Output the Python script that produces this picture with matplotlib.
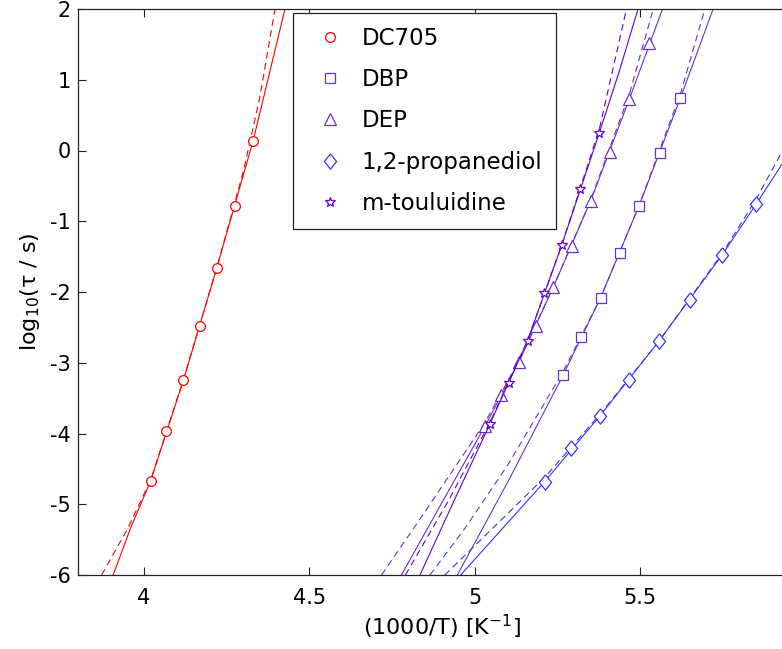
import matplotlib
matplotlib.use('Agg')
import matplotlib.pyplot as plt
import numpy as np

plt.rcParams['font.family'] = ['DejaVu Sans']
plt.rcParams['axes.unicode_minus'] = False

# measured points  (1000/T, log10 tau)
dc705_x = [4.020, 4.067, 4.119, 4.169, 4.220, 4.275, 4.330]
dc705_y = [-4.67, -3.97, -3.25, -2.48, -1.66, -0.78, 0.14]
dbp_x = [5.266, 5.320, 5.380, 5.438, 5.496, 5.559, 5.621]
dbp_y = [-3.18, -2.64, -2.08, -1.45, -0.78, -0.04, 0.74]
dep_x = [5.030, 5.079, 5.133, 5.184, 5.237, 5.293, 5.350, 5.409, 5.467, 5.527]
dep_y = [-3.90, -3.46, -2.99, -2.48, -1.93, -1.35, -0.71, -0.02, 0.73, 1.52]
prop_x = [5.211, 5.291, 5.378, 5.466, 5.557, 5.650, 5.748, 5.851]
prop_y = [-4.68, -4.21, -3.75, -3.24, -2.69, -2.12, -1.47, -0.75]
mtol_x = [5.045, 5.104, 5.159, 5.210, 5.263, 5.319, 5.376]
mtol_y = [-3.87, -3.29, -2.69, -2.01, -1.33, -0.55, 0.25]

# fit curves (solid and dashed)
dc705_fit1_x = [3.907, 3.96, 4.020, 4.119, 4.220, 4.330, 4.426]
dc705_fit1_y = [-6.0, -5.33, -4.67, -3.25, -1.66, 0.14, 2.0]
dc705_fit2_x = [3.872, 3.95, 4.020, 4.119, 4.220, 4.300, 4.350, 4.396]
dc705_fit2_y = [-6.0, -5.35, -4.66, -3.24, -1.66, -0.30, 0.75, 2.0]

dbp_fit1_x = [4.947, 5.10, 5.266, 5.380, 5.496, 5.621, 5.720]
dbp_fit1_y = [-6.0, -4.68, -3.18, -2.08, -0.78, 0.74, 2.0]
dbp_fit2_x = [4.864, 4.97, 5.10, 5.266, 5.380, 5.496, 5.621, 5.695]
dbp_fit2_y = [-6.0, -5.34, -4.44, -3.13, -2.08, -0.78, 0.80, 2.0]

dep_fit1_x = [4.778, 4.90, 5.030, 5.133, 5.237, 5.350, 5.467, 5.567]
dep_fit1_y = [-6.0, -4.98, -3.90, -2.99, -1.93, -0.71, 0.73, 2.0]
dep_fit2_x = [4.718, 4.85, 5.030, 5.133, 5.237, 5.350, 5.467, 5.539]
dep_fit2_y = [-6.0, -5.10, -3.85, -2.97, -1.93, -0.70, 0.80, 2.0]

prop_fit1_x = [4.957, 5.211, 5.378, 5.557, 5.748, 5.851, 5.930]
prop_fit1_y = [-6.0, -4.68, -3.75, -2.69, -1.47, -0.75, -0.18]
prop_fit2_x = [4.909, 5.211, 5.378, 5.557, 5.748, 5.851, 5.930]
prop_fit2_y = [-6.0, -4.62, -3.73, -2.69, -1.45, -0.68, 0.0]

mtol_fit1_x = [4.834, 4.94, 5.045, 5.159, 5.263, 5.376, 5.435, 5.493]
mtol_fit1_y = [-6.0, -4.92, -3.87, -2.69, -1.33, 0.25, 1.10, 2.0]
mtol_fit2_x = [4.790, 4.92, 5.045, 5.159, 5.263, 5.376, 5.458]
mtol_fit2_y = [-6.0, -4.95, -3.85, -2.69, -1.33, 0.30, 2.0]

names = ['DC705', 'DBP', 'DEP', '1,2-propanediol', 'm-touluidine']
colors = ['#FF0000', '#6633CC', '#6A2FD0', '#3333FF', '#6600CC']
diamond = [(0, 1), (0.8, 0), (0, -1), (-0.8, 0), (0, 1)]
markers = ['o', 's', '^', diamond, '*']
msizes = [7, 7, 8, 11, 7]

fig = plt.figure(figsize=(7.82, 6.49), dpi=100)
ax = fig.add_axes([77.8 / 782, 74 / 649, 728 / 782, 566 / 649])

data = [(dc705_x, dc705_y, dc705_fit1_x, dc705_fit1_y, dc705_fit2_x, dc705_fit2_y),
        (dbp_x, dbp_y, dbp_fit1_x, dbp_fit1_y, dbp_fit2_x, dbp_fit2_y),
        (dep_x, dep_y, dep_fit1_x, dep_fit1_y, dep_fit2_x, dep_fit2_y),
        (prop_x, prop_y, prop_fit1_x, prop_fit1_y, prop_fit2_x, prop_fit2_y),
        (mtol_x, mtol_y, mtol_fit1_x, mtol_fit1_y, mtol_fit2_x, mtol_fit2_y)]

for i, (x, y, f1x, f1y, f2x, f2y) in enumerate(data):
    ax.plot(f1x, f1y, '-', color=colors[i], lw=0.8)
    ax.plot(f2x, f2y, '--', color=colors[i], lw=0.8, dashes=(6, 4))
    ax.plot(x, y, linestyle='none', marker=markers[i], markersize=msizes[i],
            markerfacecolor='white', markeredgecolor=colors[i], markeredgewidth=0.9,
            label=names[i])

ax.set_xlim(3.8, 6.0)
ax.set_ylim(-6, 2)
ax.set_xticks([4, 4.5, 5, 5.5])
ax.set_xticklabels(['4', '4.5', '5', '5.5'])
ax.set_yticks(range(-6, 3))
ax.tick_params(axis='both', direction='in', length=6, width=0.8, labelsize=15,
               top=True, right=True, colors='#222222', labelcolor='black')
ax.tick_params(axis='x', pad=9)
ax.tick_params(axis='y', pad=5)
for s in ax.spines.values():
    s.set_linewidth(0.9)
    s.set_color('#222222')

ax.set_xlabel('(1000/T) [K$^{-1}$]', fontsize=16, labelpad=4)
ax.set_ylabel('log$_{10}$(τ / s)', fontsize=16, labelpad=6)

leg = ax.legend(loc='upper left', bbox_to_anchor=(0.2956, 0.993), borderaxespad=0,
                fontsize=16.5, frameon=True, fancybox=False, framealpha=1,
                edgecolor='#222222', borderpad=0.6, handlelength=2.0,
                handletextpad=0.4, labelspacing=0.8)
leg.get_frame().set_linewidth(0.9)

fig.savefig('out.png', dpi=100)
